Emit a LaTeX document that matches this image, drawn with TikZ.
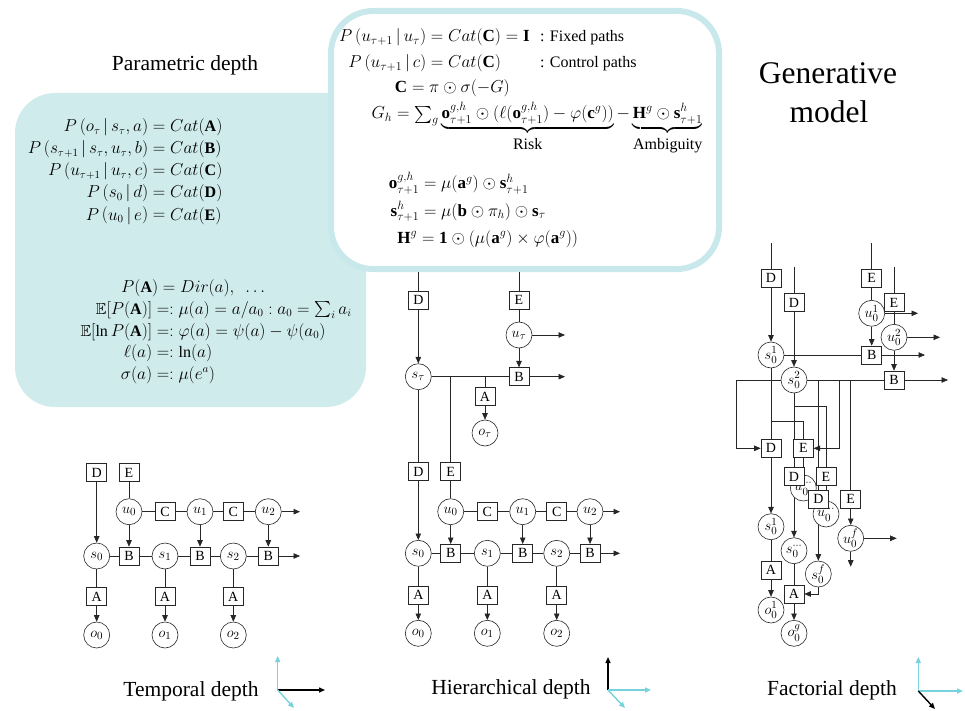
\documentclass[tikz,border=0pt]{standalone}
\usepackage{amsmath}
\usepackage{amssymb}
\usepackage{fontspec}
\setmainfont{Liberation Serif}
\usetikzlibrary{arrows.meta}
\pgfdeclarelayer{back}
\pgfdeclarelayer{edges}
\pgfsetlayers{back,edges,main}
\definecolor{panel}{RGB}{208,235,236}
\definecolor{frame}{RGB}{200,232,235}
\definecolor{axcyan}{RGB}{120,210,220}
\tikzset{
  box/.style={draw=black!85, line width=0.6pt, fill=white, minimum width=20pt, minimum height=18pt, inner sep=0pt, font=\fontsize{14}{14}\selectfont},
  var/.style={draw=black!85, line width=0.6pt, circle, fill=white, minimum size=26pt, inner sep=0pt, font=\fontsize{15}{15}\selectfont},
  hid/.style={var},
  line/.style={draw=black!85, line width=0.6pt},
  arr/.style={line, -{Triangle[length=6.5pt,width=5.5pt]}},
  eq/.style={inner sep=0pt, font=\fontsize{17}{17}\selectfont},
  eqs/.style={inner sep=0pt, font=\fontsize{16}{16}\selectfont},
  lbl/.style={inner sep=0pt, font=\fontsize{16}{16}\selectfont},
  ttl/.style={inner sep=0pt, font=\fontsize{21.5}{21.5}\selectfont},
  axb/.style={line width=1.4pt, black, -{Triangle[length=6pt,width=5pt]}},
  axc/.style={line width=1.4pt, axcyan, -{Triangle[length=6pt,width=5pt]}},
}
% one equation: name, style, x of split, baseline y, left side, right side
\newcommand\myeq[6]{\node[#2,anchor=base west] (#1) at (#3,#4) {$\llap{$#5$}{}#6$};}
\newcommand\brlbl[1]{\text{\fontsize{16}{16}\selectfont\rule{0pt}{14pt}#1}}
\begin{document}
\begin{tikzpicture}[x=1pt,y=-1pt]
\useasboundingbox (0,0) rectangle (965,711);

% ---------- backgrounds ----------
\begin{pgfonlayer}{back}
\fill[panel, rounded corners=40pt] (15,93) rectangle (366,407);
\draw[frame, line width=6pt, fill=white, rounded corners=42pt] (331,11) rectangle (719,269);
\end{pgfonlayer}

% ---------- titles ----------
\node[ttl] (tpar) at (185,65) {Parametric depth};
\node[inner sep=0pt, font=\fontsize{31.5}{31.5}\selectfont] (tgen1) at (828,73) {Generative};
\node[inner sep=0pt, font=\fontsize{31.5}{31.5}\selectfont] (tgen2) at (829,112) {model};
\node[ttl] (ttem) at (191,691) {Temporal depth};
\node[ttl] (thie) at (511,689) {Hierarchical depth};
\node[ttl] (tfac) at (832,690) {Factorial depth};

% ---------- parametric equations ----------
\myeq{p1}{eqs}{148}{132}{P\left(o_\tau\,|\,s_\tau,a\right)}{=Cat(\mathbf{A})}
\myeq{p2}{eqs}{148}{154}{P\left(s_{\tau+1}\,|\,s_\tau,u_\tau,b\right)}{=Cat(\mathbf{B})}
\myeq{p3}{eqs}{148}{176}{P\left(u_{\tau+1}\,|\,u_\tau,c\right)}{=Cat(\mathbf{C})}
\myeq{p4}{eqs}{148}{198}{P\left(s_0\,|\,d\right)}{=Cat(\mathbf{D})}
\myeq{p5}{eqs}{148}{220}{P\left(u_0\,|\,e\right)}{=Cat(\mathbf{E})}

\myeq{q1}{eqs}{158}{292}{P(\mathbf{A})}{=Dir(a),\ \ \ldots}
\myeq{q2}{eqs}{152}{314}{\mathbb{E}[P(\mathbf{A})]}{=:\mu(a)=a/a_0:a_0=\sum\nolimits_i a_i}
\myeq{q3}{eqs}{152}{336}{\mathbb{E}[\ln P(\mathbf{A})]}{=:\varphi(a)=\psi(a)-\psi(a_0)}
\myeq{q4}{eqs}{152}{357}{\ell(a)}{=:\ln(a)}
\myeq{q5}{eqs}{152}{379}{\sigma(a)}{=:\mu(e^a)}

% ---------- control equations ----------
\myeq{c1}{eq}{426}{42}{P\left(u_{\tau+1}\,|\,u_\tau\right)}{=Cat(\mathbf{C})=\mathbf{I}}
\node[lbl,anchor=base west] (c1t) at (540,42) {: Fixed paths};
\myeq{c2}{eq}{426}{68}{P\left(u_{\tau+1}\,|\,c\right)}{=Cat(\mathbf{C})}
\node[lbl,anchor=base west] (c2t) at (540,68) {: Control paths};
\myeq{c3}{eq}{407}{93}{\mathbf{C}}{=\pi\odot\sigma(-G)}
\myeq{c4}{eq}{392}{119}{G_h}{=\sum\nolimits_g \underbrace{\mathbf{o}^{g,h}_{\tau+1}\odot(\ell(\mathbf{o}^{g,h}_{\tau+1})-\varphi(\mathbf{c}^g))}_{\brlbl{Risk}}-\underbrace{\mathbf{H}^g\odot\mathbf{s}^h_{\tau+1}}_{\brlbl{Ambiguity}}}
\myeq{c5}{eq}{419}{189}{\mathbf{o}^{g,h}_{\tau+1}}{=\mu(\mathbf{a}^g)\odot\mathbf{s}^h_{\tau+1}}
\myeq{c6}{eq}{419}{216}{\mathbf{s}^h_{\tau+1}}{=\mu(\mathbf{b}\odot\pi_h)\odot\mathbf{s}_\tau}
\myeq{c7}{eq}{417}{243}{\mathbf{H}^g}{=\mathbf{1}\odot(\mu(\mathbf{a}^g)\times\varphi(\mathbf{a}^g))}

% ---------- temporal depth ----------
\node[box] (tD) at (96.7,472.7) {D};
\node[box] (tE) at (129,472.7) {E};
\node[var] (tu0) at (129,511.7) {$u_0$};
\node[box] (tC1) at (165,511.7) {C};
\node[var] (tu1) at (200,511.7) {$u_1$};
\node[box] (tC2) at (233.3,511.7) {C};
\node[var] (tu2) at (268.3,511.7) {$u_2$};
\coordinate (tue) at (300,511.7);
\node[var] (ts0) at (96.7,556) {$s_0$};
\node[box] (tB0) at (129,556) {B};
\node[var] (ts1) at (165,556) {$s_1$};
\node[box] (tB1) at (200,556) {B};
\node[var] (ts2) at (233.3,556) {$s_2$};
\node[box] (tB2) at (268.3,556) {B};
\coordinate (tse) at (300,556);
\node[box] (tA0) at (96.7,596.7) {A};
\node[box] (tA1) at (165,596.7) {A};
\node[box] (tA2) at (233.3,596.7) {A};
\node[var] (to0) at (96.7,635) {$o_0$};
\node[var] (to1) at (165,635) {$o_1$};
\node[var] (to2) at (233.3,635) {$o_2$};

% ---------- hierarchical depth ----------
\coordinate (hDtop) at (418.3,272);
\coordinate (hEtop) at (519,272);
\node[box] (hD) at (418.3,300) {D};
\node[box] (hE) at (519,300) {E};
\node[var] (hut) at (519,335) {$u_\tau$};
\coordinate (hue) at (565,335);
\node[var] (hst) at (418.3,376.7) {$s_\tau$};
\node[box] (hB) at (519,376.7) {B};
\coordinate (hBe) at (565,376.7);
\coordinate (hja) at (485,376.7);
\coordinate (hje) at (450.7,376.7);
\node[box] (hA) at (485,396.7) {A};
\node[var] (hot) at (485,433) {$o_\tau$};
\node[box] (hD0) at (418.3,471.7) {D};
\node[box] (hE0) at (450.7,471.7) {E};
\node[var] (hu0) at (450.7,511.7) {$u_0$};
\node[box] (hC1) at (487.3,511.7) {C};
\node[var] (hu1) at (522.7,511.7) {$u_1$};
\node[box] (hC2) at (556.7,511.7) {C};
\node[var] (hu2) at (590,511.7) {$u_2$};
\coordinate (hue2) at (620,511.7);
\node[var] (hs0) at (418.3,553.3) {$s_0$};
\node[box] (hB0) at (450.7,553.3) {B};
\node[var] (hs1) at (487.3,553.3) {$s_1$};
\node[box] (hB1) at (522.7,553.3) {B};
\node[var] (hs2) at (556.7,553.3) {$s_2$};
\node[box] (hB2) at (590,553.3) {B};
\coordinate (hse2) at (620,553.3);
\node[box] (hA0) at (418.3,595) {A};
\node[box] (hA1) at (487.3,595) {A};
\node[box] (hA2) at (556.7,595) {A};
\node[var] (ho0) at (418.3,633.3) {$o_0$};
\node[var] (ho1) at (487.3,633.3) {$o_1$};
\node[var] (ho2) at (556.7,633.3) {$o_2$};

% ---------- factorial depth ----------
\coordinate (fD1top) at (771,243);
\coordinate (fD2top) at (794,266.7);
\coordinate (fE1top) at (871.7,243);
\coordinate (fE2top) at (894,266.7);
\node[box] (fD1t) at (771,278.3) {D};
\node[box] (fD2t) at (794,302.7) {D};
\node[box] (fE1t) at (871.7,278.3) {E};
\node[var] (fu1) at (871.7,313.3) {$u_0^1$};
\node[box] (fE2t) at (894,302.7) {E};
\node[var] (fu2) at (894,337.3) {$u_0^2$};
\coordinate (fu1e) at (918,313.3);
\coordinate (fu2e) at (940,337.3);
\node[var] (fs1) at (771,355) {$s_0^1$};
\node[box] (fB1) at (871.7,355) {B};
\coordinate (fB1e) at (925,355);
\node[var] (fs2) at (794,380) {$s_0^2$};
\node[box] (fB2) at (894,380) {B};
\coordinate (fB2e) at (948,380);
\coordinate (fL) at (736.7,380);
\coordinate (fj1) at (771,421.7);
\coordinate (fj2) at (794,406.7);
\coordinate (fk1) at (818.3,380);
\coordinate (fk2) at (839.3,380);
\coordinate (fk2b) at (839.3,448.3);
\coordinate (fk3) at (850.7,380);
\node[box] (fD1) at (771,448.3) {D};
\node[box] (fE1) at (803.3,448.3) {E};
\node[hid] (fh1) at (803.3,488) {$u_0^{\cdots}$};
\node[box] (fD2) at (794,476.7) {D};
\node[box] (fE2) at (826,476.7) {E};
\node[hid] (fh2) at (826,514) {$u_0^{\cdots}$};
\node[box] (fD3) at (818.3,499.3) {D};
\node[box] (fE3) at (850.7,499.3) {E};
\node[var] (fuf) at (850.7,538.3) {$u_0^f$};
\coordinate (fufe) at (896.7,538.3);
\coordinate (fufd) at (850.7,566.7);
\node[var] (fs01) at (771,526.7) {$s_0^1$};
\node[var] (fsd) at (794,550.7) {$s_0^{\cdots}$};
\node[var] (fsf) at (818.3,574) {$s_0^f$};
\node[box] (fA1) at (771,570) {A};
\node[box] (fA2) at (794,594) {A};
\node[var] (fo1) at (771,610) {$o_0^1$};
\node[var] (fog) at (794,633.3) {$o_0^g$};

% ---------- axes ----------
\coordinate (ax1) at (277.7,690);
\coordinate (ax1u) at (277.7,656);
\coordinate (ax1r) at (325,690);
\coordinate (ax1d) at (294,708);
\coordinate (ax2) at (608,690);
\coordinate (ax2u) at (608,657);
\coordinate (ax2r) at (651,690);
\coordinate (ax2d) at (625,708);
\coordinate (ax3) at (918.3,691);
\coordinate (ax3u) at (918.3,657);
\coordinate (ax3r) at (963,691);
\coordinate (ax3d) at (935,709);

\begin{pgfonlayer}{edges}
% temporal
\draw[arr] (tD) -- (ts0);
\draw[line] (tE) -- (tu0);
\draw[line] (tu0) -- (tC1);
\draw[line] (tC1) -- (tu1);
\draw[line] (tu1) -- (tC2);
\draw[line] (tC2) -- (tu2);
\draw[arr] (tu2) -- (tue);
\draw[line] (ts0) -- (tB0);
\draw[line] (tB0) -- (ts1);
\draw[line] (ts1) -- (tB1);
\draw[line] (tB1) -- (ts2);
\draw[line] (ts2) -- (tB2);
\draw[arr] (tB2) -- (tse);
\draw[arr] (tu0) -- (tB0);
\draw[arr] (tu1) -- (tB1);
\draw[arr] (tu2) -- (tB2);
\draw[line] (ts0) -- (tA0);
\draw[line] (ts1) -- (tA1);
\draw[line] (ts2) -- (tA2);
\draw[arr] (tA0) -- (to0);
\draw[arr] (tA1) -- (to1);
\draw[arr] (tA2) -- (to2);
% hierarchical
\draw[line] (hDtop) -- (hD);
\draw[line] (hEtop) -- (hE);
\draw[arr] (hD) -- (hst);
\draw[line] (hE) -- (hut);
\draw[arr] (hut) -- (hB);
\draw[arr] (hut) -- (hue);
\draw[arr] (hB) -- (hBe);
\draw[line] (hst) -- (hB);
\draw[line] (hja) -- (hA);
\draw[arr] (hA) -- (hot);
\draw[line] (hst) -- (hD0);
\draw[line] (hje) -- (hE0);
\draw[arr] (hD0) -- (hs0);
\draw[line] (hE0) -- (hu0);
\draw[line] (hu0) -- (hC1);
\draw[line] (hC1) -- (hu1);
\draw[line] (hu1) -- (hC2);
\draw[line] (hC2) -- (hu2);
\draw[arr] (hu2) -- (hue2);
\draw[line] (hs0) -- (hB0);
\draw[line] (hB0) -- (hs1);
\draw[line] (hs1) -- (hB1);
\draw[line] (hB1) -- (hs2);
\draw[line] (hs2) -- (hB2);
\draw[arr] (hB2) -- (hse2);
\draw[arr] (hu0) -- (hB0);
\draw[arr] (hu1) -- (hB1);
\draw[arr] (hu2) -- (hB2);
\draw[line] (hs0) -- (hA0);
\draw[line] (hs1) -- (hA1);
\draw[line] (hs2) -- (hA2);
\draw[arr] (hA0) -- (ho0);
\draw[arr] (hA1) -- (ho1);
\draw[arr] (hA2) -- (ho2);
% factorial
\draw[line] (fD1top) -- (fD1t);
\draw[line] (fD2top) -- (fD2t);
\draw[line] (fE1top) -- (fE1t);
\draw[line] (fE2top) -- (fE2t);
\draw[arr] (fD1t) -- (fs1);
\draw[arr] (fD2t) -- (fs2);
\draw[line] (fE1t) -- (fu1);
\draw[line] (fE2t) -- (fu2);
\draw[arr] (fu1) -- (fB1);
\draw[arr] (fu2) -- (fB2);
\draw[arr] (fu1) -- (fu1e);
\draw[arr] (fu2) -- (fu2e);
\draw[arr] (fB1) -- (fB1e);
\draw[arr] (fB2) -- (fB2e);
\draw[line] (fs1) -- (fB1);
\draw[line] (fs2) -- (fB2);
\draw[arr] (fs2) -- (fL) |- (fD1);
\draw[line] (fs1) -- (fD1);
\draw[line] (fj1) -| (fE1);
\draw[line] (fs2) -- (fD2);
\draw[line] (fj2) -| (fE2);
\draw[line] (fk1) -- (fD3);
\draw[arr] (fk2) -- (fk2b) -- (fE1);
\draw[line] (fk3) -- (fE3);
\draw[line] (fE1) -- (fh1);
\draw[line] (fE2) -- (fh2);
\draw[arr] (fD1) -- (fs01);
\draw[arr] (fD2) -- (fsd);
\draw[arr] (fD3) -- (fsf);
\draw[arr] (fE3) -- (fuf);
\draw[arr] (fuf) -- (fufe);
\draw[arr] (fuf) -- (fufd);
\draw[line] (fs01) -- (fA1);
\draw[arr] (fA1) -- (fo1);
\draw[line] (fsd) -- (fA2);
\draw[arr] (fA2) -- (fog);
\draw[arr] (fsf) |- (fA2);
% axes
\draw[axc] (ax1) -- (ax1u);
\draw[axb] (ax1) -- (ax1r);
\draw[axc] (ax1) -- (ax1d);
\draw[axb] (ax2) -- (ax2u);
\draw[axc] (ax2) -- (ax2r);
\draw[axc] (ax2) -- (ax2d);
\draw[axc] (ax3) -- (ax3u);
\draw[axc] (ax3) -- (ax3r);
\draw[axb] (ax3) -- (ax3d);
\end{pgfonlayer}
\end{tikzpicture}
\end{document}
